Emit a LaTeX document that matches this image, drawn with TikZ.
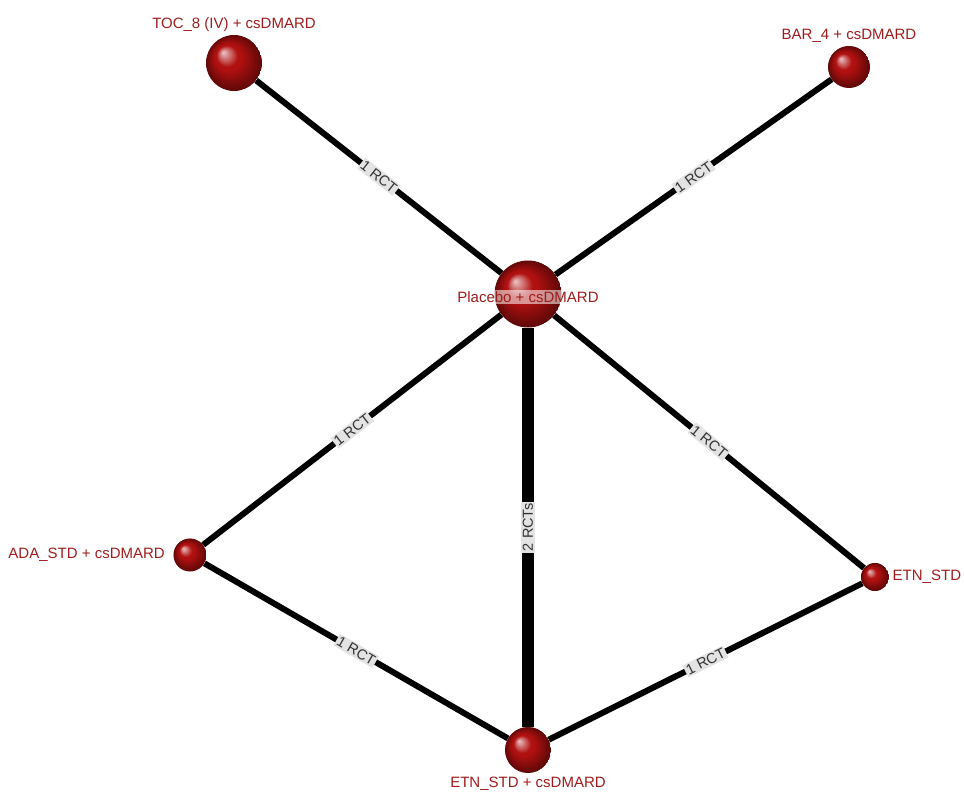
\documentclass[tikz,border=0pt]{standalone}
\usepackage{fontspec}
\newfontfamily\netfont{Liberation Sans}
\usepackage{tikz}
\usetikzlibrary{shapes,backgrounds,positioning}
\definecolor{trtred}{RGB}{176,16,16}
\definecolor{labred}{RGB}{158,28,28}
\tikzset{
  trt/.style={ circle, minimum size=#1, inner sep=0pt, label distance=2pt,
    path picture={
      \foreach \k in {0,...,36}{
        \pgfmathsetmacro\rr{(1-\k/36)*#1/2}
        \pgfmathsetmacro\cc{(\k/36)*0.38*#1/2}
        \pgfmathtruncatemacro\mixa{min(100, 55+90*\k/36)}
        \pgfmathtruncatemacro\mixb{min(100, 100-(\k/36-0.6)*200)}
        \fill[trtred!\mixa!black!\mixb!white]
          ([shift={(-\cc,-\cc)}]path picture bounding box.center) circle[radius=\rr];
      }
    } }
}
\tikzset{
  trtname/.style={ text=labred, font=\netfont\fontsize{15}{17}\selectfont }
}
\tikzset{
  onball/.style={ trtname, fill=white, fill opacity=0.55, text opacity=1, inner sep=1.5pt }
}
\tikzset{
  rct/.style={ fill=gray!22, text=black!80, inner sep=1.5pt, font=\netfont\fontsize{14.5}{16}\selectfont }
}
\tikzset{
  link/.style={ line width=#1, black }
}

\begin{document}
\begin{tikzpicture}[x=1pt, y=-1pt]
      \useasboundingbox (0, 0) rectangle (964, 793);
      \node[trt=67, label={[onball, yshift=-3pt]center:Placebo + csDMARD}] (plac) at (528, 294) {};
      \node[trt=56, label={[trtname]above:TOC\_8 (IV) + csDMARD}] (toc) at (234, 63) {};
      \node[trt=42, label={[trtname]above:BAR\_4 + csDMARD}] (bar) at (849, 67) {};
      \node[trt=33, label={[trtname, label distance=5pt]left:ADA\_STD + csDMARD}] (ada) at (190, 555) {};
      \node[trt=28, label={[trtname]right:ETN\_STD}] (etn) at (875, 577) {};
      \node[trt=46, label={[trtname]below:ETN\_STD + csDMARD}] (etncs) at (528, 750) {};

      \begin{scope}[on background layer]
        \draw[link=6pt] (toc) edge node[midway, sloped, rct] {1 RCT} (plac);
        \draw[link=6pt] (plac) edge node[midway, sloped, rct] {1 RCT} (bar);
        \draw[link=6pt] (ada) edge node[midway, sloped, rct] {1 RCT} (plac);
        \draw[link=6pt] (plac) edge node[midway, sloped, rct] {1 RCT} (etn);
        \draw[link=12pt] (etncs) edge node[midway, rotate=90, rct] {2 RCTs} (plac);
        \draw[link=6pt] (ada) edge node[midway, sloped, rct] {1 RCT} (etncs);
        \draw[link=6pt] (etncs) edge node[midway, sloped, rct] {1 RCT} (etn);
      \end{scope}
    \end{tikzpicture}
\end{document}
